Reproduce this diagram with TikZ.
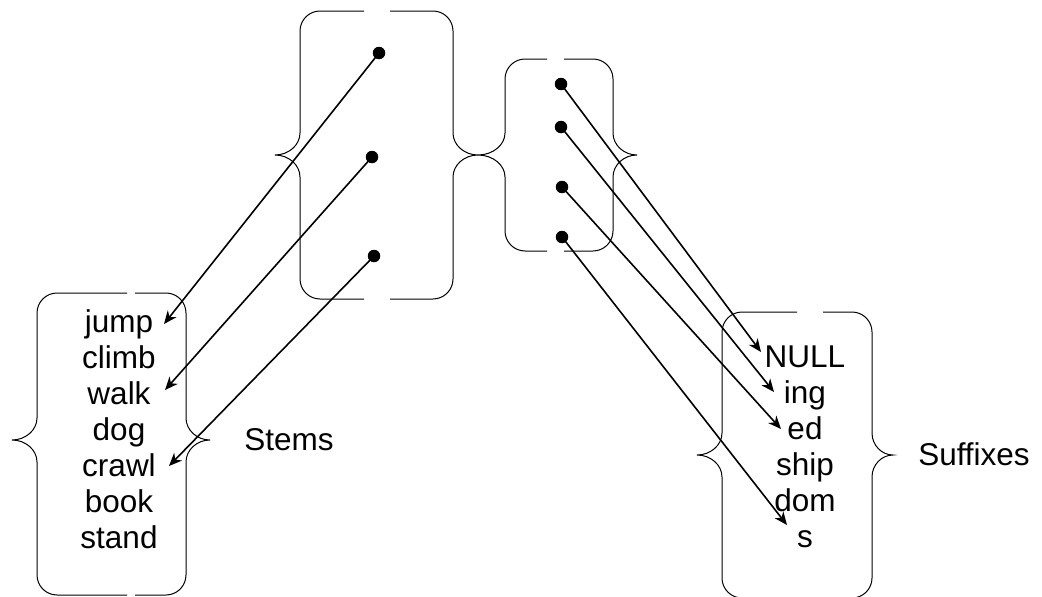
\documentclass[tikz,border=0pt]{standalone}
\usepackage{fontspec}
\setmainfont{Liberation Sans}
\usetikzlibrary{arrows.meta}

% A box made of a left and a right curly brace, open at the top and bottom middle.
% #1 left vertical x, #2 left tip x, #3 right vertical x, #4 right tip x,
% #5 top y, #6 bottom y, #7 tip y, #8 gap left x, #9 gap right x
\newcommand\curlybox[9]{%
  \draw[brace] (#8,#5) -- ({#1+20},#5)
    .. controls ({#1+9},#5) and (#1,{#5+9}) .. (#1,{#5+20})
    -- (#1,{#7-22})
    .. controls (#1,{#7-10}) and ({#2+0.55*(#1-#2)},#7) .. (#2,#7)
    .. controls ({#2+0.55*(#1-#2)},#7) and (#1,{#7+10}) .. (#1,{#7+22})
    -- (#1,{#6-20})
    .. controls (#1,{#6-9}) and ({#1+9},#6) .. ({#1+20},#6)
    -- (#8,#6);
  \draw[brace] (#9,#5) -- ({#3-20},#5)
    .. controls ({#3-9},#5) and (#3,{#5+9}) .. (#3,{#5+20})
    -- (#3,{#7-22})
    .. controls (#3,{#7-10}) and ({#4+0.55*(#3-#4)},#7) .. (#4,#7)
    .. controls ({#4+0.55*(#3-#4)},#7) and (#3,{#7+10}) .. (#3,{#7+22})
    -- (#3,{#6-20})
    .. controls (#3,{#6-9}) and ({#3-9},#6) .. ({#3-20},#6)
    -- (#9,#6);
}

\begin{document}
\begin{tikzpicture}[x=1pt,y=-1pt,
  brace/.style={draw=black, line width=1pt},
  dot/.style={circle, fill=black, inner sep=0pt, minimum size=12.5pt},
  word/.style={anchor=base, inner sep=0pt, font=\fontsize{31.5}{36}\selectfont},
  link/.style={line width=1.6pt, -{Stealth[length=13pt,width=11pt,inset=4pt]}}]

\useasboundingbox (0,0) rectangle (1042,597);

% brace boxes
\curlybox{37}{12}{186}{210}{293}{595}{440}{127}{135}
\curlybox{300}{275}{453}{478}{11}{299}{155}{364}{390}
\curlybox{505}{478}{613}{637}{59}{251}{155}{547}{564}
\curlybox{722}{697}{872}{893}{312}{598}{455}{797}{823}

% stems
\node[word] (jump)  at (119,332) {jump};
\node[word] (climb) at (119,368) {climb};
\node[word] (walk)  at (119,404) {walk};
\node[word] (dog)   at (119,440) {dog};
\node[word] (crawl) at (119,476) {crawl};
\node[word] (book)  at (119,512) {book};
\node[word] (stand) at (119,548) {stand};
\node[word] (stems) at (289,450) {Stems};

% suffixes
\node[word] (null) at (805,367) {NULL};
\node[word] (ing)  at (805,403) {ing};
\node[word] (ed)   at (805,439) {ed};
\node[word] (ship) at (805,475) {ship};
\node[word] (dom)  at (805,511) {dom};
\node[word] (s)    at (805,547) {s};
\node[word] (suffixes) at (974,465) {Suffixes};

% slots
\node[dot] (a1) at (379,53) {};
\node[dot] (a2) at (372,157) {};
\node[dot] (a3) at (374,256) {};
\node[dot] (b1) at (561,84) {};
\node[dot] (b2) at (561,127) {};
\node[dot] (b3) at (562,187) {};
\node[dot] (b4) at (562,237) {};

% arrow targets beside the words
\coordinate (jumpIn)  at (164,324);
\coordinate (walkIn)  at (165,390);
\coordinate (crawlIn) at (169,466);
\coordinate (nullIn)  at (761,352);
\coordinate (ingIn)   at (774,392);
\coordinate (edIn)    at (781,429);
\coordinate (sIn)     at (787,525);

\draw[link] (a1.center) -- (jumpIn);
\draw[link] (a2.center) -- (walkIn);
\draw[link] (a3.center) -- (crawlIn);
\draw[link] (b1.center) -- (nullIn);
\draw[link] (b2.center) -- (ingIn);
\draw[link] (b3.center) -- (edIn);
\draw[link] (b4.center) -- (sIn);
\end{tikzpicture}
\end{document}
